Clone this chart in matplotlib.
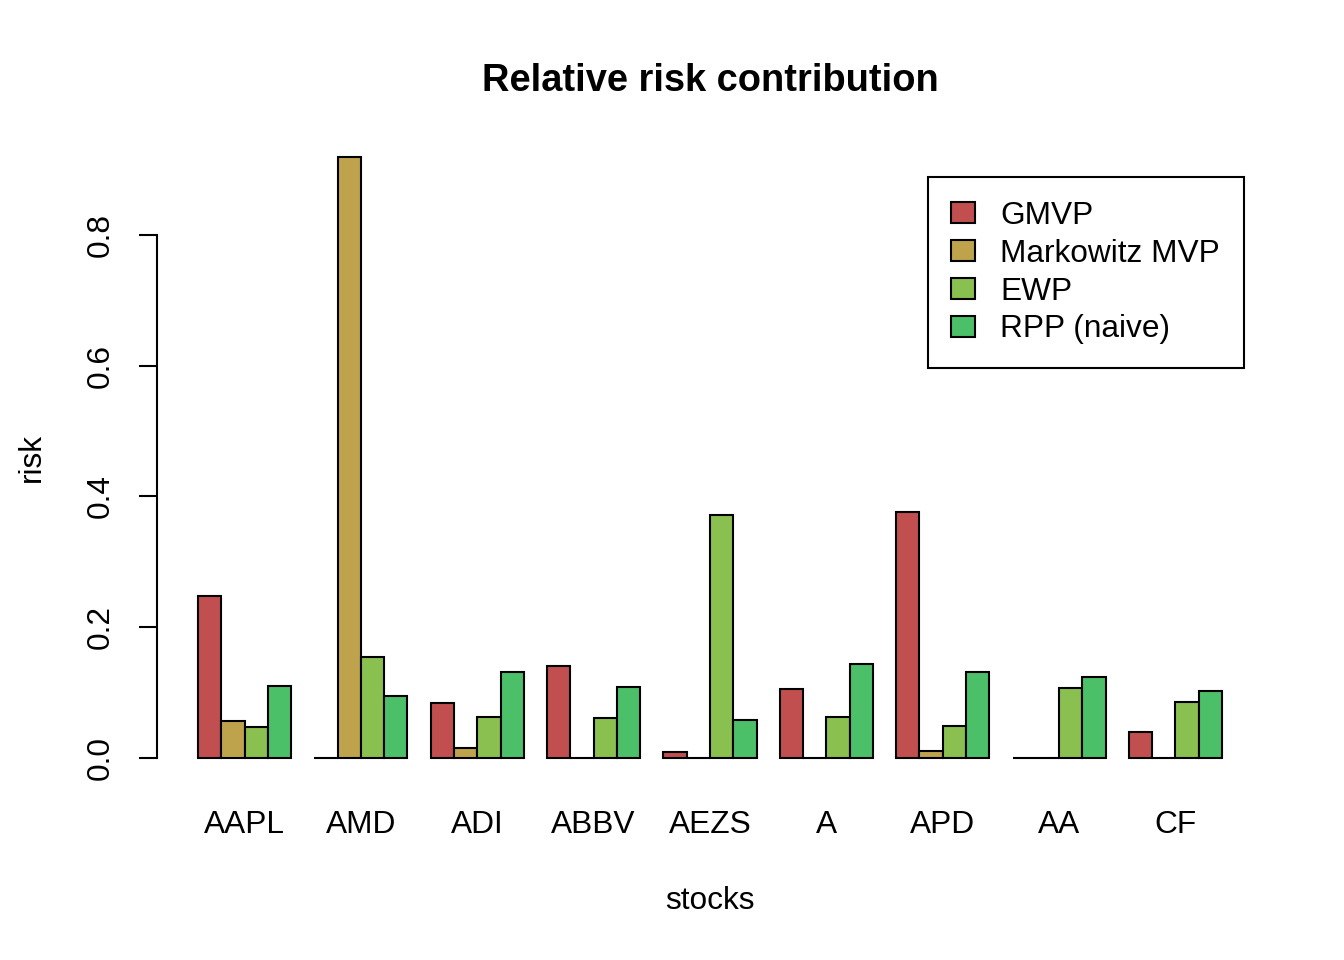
import numpy as np
import matplotlib.pyplot as plt

plt.rcParams['font.family'] = ['Liberation Sans', 'DejaVu Sans']

stocks = ['AAPL', 'AMD', 'ADI', 'ABBV', 'AEZS', 'A', 'APD', 'AA', 'CF']
portfolios = ['GMVP', 'Markowitz MVP', 'EWP', 'RPP (naive)']

# relative risk contribution per stock
gmvp = [0.248, 0.0, 0.084, 0.141, 0.009, 0.106, 0.376, 0.0, 0.040]
markowitz = [0.056, 0.919, 0.015, 0.0, 0.0, 0.0, 0.011, 0.0, 0.0]
ewp = [0.048, 0.154, 0.063, 0.061, 0.372, 0.063, 0.049, 0.107, 0.086]
rpp = [0.110, 0.095, 0.132, 0.109, 0.058, 0.144, 0.132, 0.124, 0.102]

colors = ['#C24F4F', '#BFA24C', '#8AC04F', '#4CC069']
fs = 22.8

fig = plt.figure(figsize=(13.44, 9.6), dpi=100)
ax = fig.add_axes([157/1344, 1 - 782/960, (1263-157)/1344, (782-133)/960])

# R style beside barplot: bars of width 1, one unit gap between groups
series = [gmvp, markowitz, ewp, rpp]
n = len(series)
starts = np.arange(len(stocks)) * (n + 1) + 1
for i, (vals, col, lab) in enumerate(zip(series, colors, portfolios)):
    ax.bar(starts + i, vals, width=1, align='edge', color=col,
           edgecolor='black', linewidth=1.5, label=lab)

ax.set_xlim(1 - 0.04*44, 45 + 0.04*44)
ax.set_ylim(-0.04*0.919, 0.919*1.04)

for s in ['top', 'right', 'bottom']:
    ax.spines[s].set_visible(False)
ax.spines['left'].set_bounds(0, 0.8)
ax.spines['left'].set_linewidth(1.5)
ax.set_yticks([0, 0.2, 0.4, 0.6, 0.8])
ax.set_yticklabels(['0.0', '0.2', '0.4', '0.6', '0.8'], rotation=90, va='center')
ax.tick_params(axis='y', length=13, width=1.5, labelsize=fs, pad=17)
ax.set_xticks(starts + n/2)
ax.set_xticklabels(stocks)
ax.tick_params(axis='x', length=0, labelsize=fs, pad=20)

ax.set_title('Relative risk contribution', fontsize=27.4, fontweight='bold', pad=30)
ax.set_xlabel('stocks', fontsize=fs, labelpad=33)
ax.set_ylabel('risk', fontsize=fs, labelpad=28)

leg = ax.legend(loc='upper right', bbox_to_anchor=(1244/1344, 1 - 177/960),
                bbox_transform=fig.transFigure, fontsize=fs, frameon=True,
                fancybox=False, edgecolor='black', framealpha=1, borderpad=0.75,
                labelspacing=0.25, handlelength=0.75, handleheight=0.65,
                handletextpad=0.8, borderaxespad=0)
leg.get_frame().set_linewidth(1.5)

fig.savefig('out.png', dpi=100)
